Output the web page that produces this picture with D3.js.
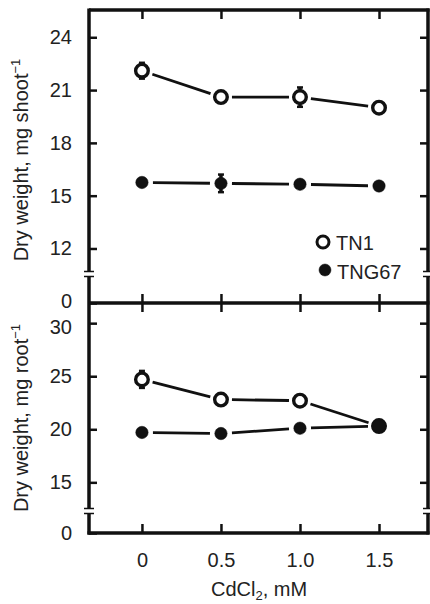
<!DOCTYPE html>
<html>
<head>
<meta charset="utf-8">
<script src="https://cdn.jsdelivr.net/npm/d3@7"></script>
<style>
  body { margin: 0; background: #fff; }
  text { font-family: "Liberation Sans", Arial, sans-serif; fill: #222; }
</style>
</head>
<body>
<div id="container"></div>
<script>
// values
const doses = [0, 0.5, 1.0, 1.5];
const doseLabels = ["0", "0.5", "1.0", "1.5"];
const shootTN1 = [22.1, 20.6, 20.6, 20.0];
const shootTN1Err = [0.45, 0, 0.55, 0];
const shootTNG67 = [15.75, 15.7, 15.65, 15.55];
const shootTNG67Err = [0, 0.5, 0, 0];
const rootTN1 = [24.7, 22.8, 22.7, 20.3];
const rootTN1Err = [0.8, 0, 0, 0];
const rootTNG67 = [19.7, 19.6, 20.1, 20.3];
const rootTNG67Err = [0, 0, 0, 0.5];
const shootTicks = [0, 12, 15, 18, 21, 24];
const rootTicks = [0, 15, 20, 25, 30];
const seriesNames = ["TN1", "TNG67"];

const width = 430, height = 604;
const pad = { left: 89, right: 428, top: 10, mid: 303, bot: 533 };
const fontSize = "20px";

const svg = d3.select("#container")
              .append("svg")
              .attr("width", width)
              .attr("height", height);

const x = d3.scaleLinear().domain([-0.335, 1.81]).range([pad.left, pad.right]);
// broken axes: 0 sits below the break
const yShoot = d3.scaleLinear().domain([0, 10.55, 25.55]).range([pad.mid, 274, pad.top]);
const yRoot = d3.scaleLinear().domain([0, 12.3, 31.9]).range([pad.bot, 511, pad.mid]);

function styleAxis(g) {
  g.select(".domain").remove();
  g.selectAll(".tick line").attr("stroke", "#111").attr("stroke-width", 2.5);
  g.selectAll(".tick text").style("font-size", fontSize).attr("fill", "#222");
}

// y axes (left, labels) and right side ticks
const yLeftShoot = svg.append("g")
   .attr("transform", "translate(" + pad.left + ",0)")
   .call(d3.axisLeft(yShoot).tickValues(shootTicks).tickSizeInner(-8).tickSizeOuter(0).tickPadding(17))
   .call(styleAxis);
// the shoot 0 and root 30 labels sit close together near the divider
yLeftShoot.selectAll(".tick text").filter(d => d === 0).attr("dy", "0.2em");

const yLeftRoot = svg.append("g")
   .attr("transform", "translate(" + pad.left + ",0)")
   .call(d3.axisLeft(yRoot).tickValues(rootTicks).tickSizeInner(-8).tickSizeOuter(0).tickPadding(17))
   .call(styleAxis);
yLeftRoot.selectAll(".tick text").filter(d => d === 30).attr("dy", "0.5em");

[[yShoot, shootTicks], [yRoot, rootTicks]].forEach(([y, ticks]) => {
  svg.append("g")
     .attr("transform", "translate(" + pad.right + ",0)")
     .call(d3.axisRight(y).tickValues(ticks.filter(t => t > 0)).tickSizeInner(-8).tickSizeOuter(0).tickFormat(""))
     .call(styleAxis);
});

// x ticks: top edge, middle divider (both sides), bottom edge with labels
svg.append("g")
   .attr("transform", "translate(0," + pad.top + ")")
   .call(d3.axisTop(x).tickValues(doses).tickSizeInner(-9).tickSizeOuter(0).tickFormat(""))
   .call(styleAxis);
svg.append("g")
   .attr("transform", "translate(0," + pad.mid + ")")
   .call(d3.axisTop(x).tickValues(doses).tickSizeInner(9).tickSizeOuter(0).tickFormat(""))
   .call(styleAxis);
svg.append("g")
   .attr("transform", "translate(0," + pad.mid + ")")
   .call(d3.axisBottom(x).tickValues(doses).tickSizeInner(9).tickSizeOuter(0).tickFormat(""))
   .call(styleAxis);
svg.append("g")
   .attr("transform", "translate(0," + pad.bot + ")")
   .call(d3.axisBottom(x).tickValues(doses).tickSizeInner(-9).tickSizeOuter(0).tickPadding(20)
          .tickFormat((d, i) => doseLabels[i]))
   .call(styleAxis);

// frame
const frame = svg.append("g").attr("stroke", "#111").attr("stroke-width", 3.5).attr("fill", "none");
frame.append("line").attr("x1", pad.left).attr("x2", pad.right + 1.5).attr("y1", pad.top).attr("y2", pad.top);
frame.append("line").attr("x1", pad.left).attr("x2", pad.right + 1.5).attr("y1", pad.mid).attr("y2", pad.mid);
frame.append("line").attr("x1", pad.left - 1.5).attr("x2", pad.right + 1.5).attr("y1", pad.bot).attr("y2", pad.bot);
frame.append("line").attr("x1", pad.left).attr("x2", pad.left).attr("y1", pad.top - 1.5).attr("y2", pad.bot + 1.5);
frame.append("line").attr("x1", pad.right).attr("x2", pad.right).attr("y1", pad.top - 1.5).attr("y2", pad.bot + 1.5);

// axis breaks
[yShoot(10.55), yRoot(12.3)].forEach(by => {
  [pad.left, pad.right].forEach(bx => {
    svg.append("rect").attr("x", bx - 4).attr("y", by - 2).attr("width", 8).attr("height", 4).attr("fill", "#fff");
    [-2.5, 2.5].forEach(o => {
      svg.append("line").attr("x1", bx - 5).attr("x2", bx + 5)
         .attr("y1", by + o).attr("y2", by + o)
         .attr("stroke", "#111").attr("stroke-width", 1.5);
    });
  });
});

// series drawing
function drawSeries(y, vals, errs, filled) {
  const pts = vals.map((v, i) => [x(doses[i]), y(v)]);
  const gap = 11;
  for (let i = 0; i < pts.length - 1; i++) {
    const [x1, y1] = pts[i], [x2, y2] = pts[i + 1];
    const len = Math.hypot(x2 - x1, y2 - y1);
    const ux = (x2 - x1) / len, uy = (y2 - y1) / len;
    svg.append("line")
       .attr("x1", x1 + ux * gap).attr("y1", y1 + uy * gap)
       .attr("x2", x2 - ux * gap).attr("y2", y2 - uy * gap)
       .attr("stroke", "#111").attr("stroke-width", 2.8);
  }
  vals.forEach((v, i) => {
    if (errs[i] > 0) {
      const cx = x(doses[i]);
      svg.append("line").attr("x1", cx).attr("x2", cx)
         .attr("y1", y(v - errs[i])).attr("y2", y(v + errs[i]))
         .attr("stroke", "#111").attr("stroke-width", 3.5);
      [v - errs[i], v + errs[i]].forEach(e => {
        svg.append("line").attr("x1", cx - 3).attr("x2", cx + 3)
           .attr("y1", y(e)).attr("y2", y(e))
           .attr("stroke", "#111").attr("stroke-width", 2.5);
      });
    }
  });
  svg.selectAll(null)
     .data(vals)
     .enter()
     .append("circle")
     .attr("cx", (d, i) => x(doses[i]))
     .attr("cy", d => y(d))
     .attr("r", filled ? 6.2 : 6.3)
     .attr("fill", filled ? "#111" : "#fff")
     .attr("stroke", "#111")
     .attr("stroke-width", filled ? 0.5 : 3.4);
}

drawSeries(yShoot, shootTN1, shootTN1Err, false);
drawSeries(yShoot, shootTNG67, shootTNG67Err, true);
drawSeries(yRoot, rootTN1, rootTN1Err, false);
drawSeries(yRoot, rootTNG67, rootTNG67Err, true);

// legend
const legend = svg.append("g").attr("transform", "translate(323, 242)");
seriesNames.forEach((name, i) => {
  legend.append("circle")
        .attr("cx", i * 2).attr("cy", i * 28)
        .attr("r", 6)
        .attr("fill", i === 0 ? "#fff" : "#111")
        .attr("stroke", "#111")
        .attr("stroke-width", i === 0 ? 3 : 0.5);
  legend.append("text")
        .attr("x", 13 + i * 1).attr("y", i * 29 + 8)
        .style("font-size", fontSize)
        .text(name);
});

// axis titles
const t1 = svg.append("text")
              .attr("transform", "translate(28, 160)rotate(-90)")
              .attr("text-anchor", "middle")
              .style("font-size", fontSize);
t1.append("tspan").text("Dry weight, mg shoot");
t1.append("tspan").attr("dy", -8).style("font-size", "13px").text("\u22121");

const t2 = svg.append("text")
              .attr("transform", "translate(28, 418)rotate(-90)")
              .attr("text-anchor", "middle")
              .style("font-size", fontSize);
t2.append("tspan").text("Dry weight, mg root");
t2.append("tspan").attr("dy", -8).style("font-size", "13px").text("\u22121");

const xt = svg.append("text")
              .attr("x", 259).attr("y", 596)
              .attr("text-anchor", "middle")
              .style("font-size", fontSize);
xt.append("tspan").text("CdCl");
xt.append("tspan").attr("dy", 4).style("font-size", "13px").text("2");
xt.append("tspan").attr("dy", -4).text(", mM");
</script>
</body>
</html>
